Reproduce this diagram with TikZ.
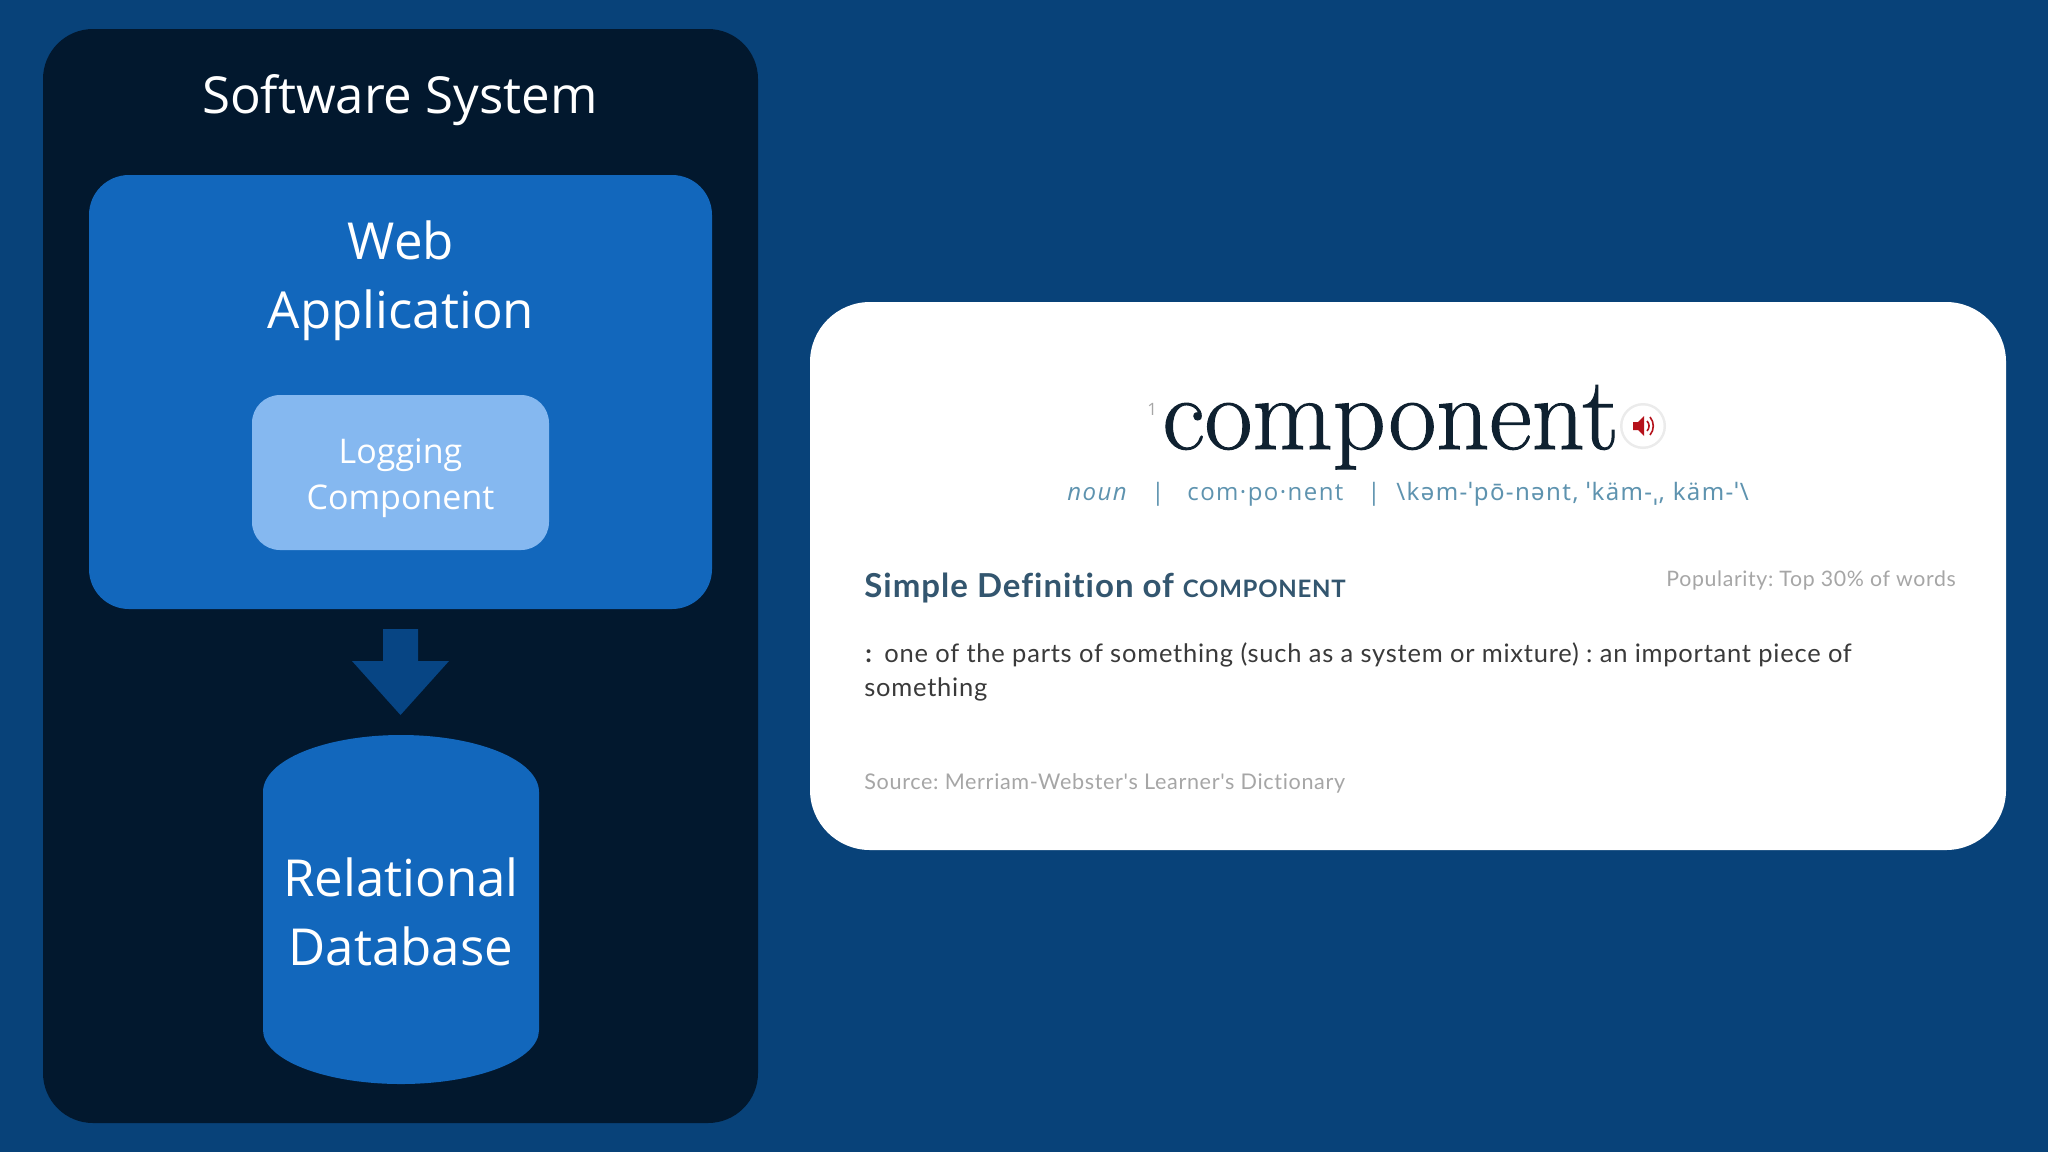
\documentclass[tikz,border=0pt]{standalone}
\usepackage{fontspec}
\setmainfont{Open Sans}
\newfontfamily\latoSp[LetterSpace=3,Ligatures=NoCommon]{Lato}
\newfontfamily\openSp[LetterSpace=6]{Open Sans}
\newfontfamily\notoSp[LetterSpace=5.7]{Noto Sans}
\newfontfamily\dictfont[RawFeature={embolden=1.0}]{Latin Modern Roman}
\definecolor{bgblue}{HTML}{084279}
\definecolor{panel}{HTML}{02182E}
\definecolor{midblue}{HTML}{1267BC}
\definecolor{lightblue}{HTML}{85B8F0}
\definecolor{arrowblue}{HTML}{074584}
\definecolor{inkdark}{HTML}{0F2130}
\definecolor{slate}{HTML}{5E93AF}
\definecolor{headblue}{HTML}{33566F}
\definecolor{greytxt}{HTML}{A6A6A6}
\definecolor{bodytxt}{HTML}{3A3A3A}
\definecolor{speaker}{HTML}{B5121B}
\tikzset{
  px/.style={x=0.5pt,y=-0.5pt},
  lbl/.style={text=white,align=center,inner sep=0pt},
  big/.style={lbl,font=\fontsize{25.5}{34.5}\selectfont},
  dict/.style={anchor=base west,inner sep=0pt},
  meta/.style={dict,text=slate,font=\openSp\fontsize{12}{15}\selectfont},
}
\begin{document}
\frenchspacing
\begin{tikzpicture}[px]
\useasboundingbox (0,0) rectangle (2048,1152);
\fill[bgblue] (0,0) rectangle (2048,1152);
% left panel
\fill[panel,rounded corners=25pt] (43,29) rectangle (758,1123);
\node[big] (sys) at (400,100) {Software System};
\fill[midblue,rounded corners=20pt] (89,175) rectangle (712,609);
\node[big] (web) at (401,281) {Web\\Application};
\fill[lightblue,rounded corners=14pt] (252,395) rectangle (549,550);
\node[lbl,font=\fontsize{17}{23}\selectfont] (log) at (400.5,478) {Logging\\Component};
\fill[arrowblue] (383,629) -- (418,629) -- (418,661) -- (449,661) -- (400.5,715) -- (352,661) -- (383,661) -- cycle;
\fill[midblue] (263,792) .. controls (263,760) and (325,735) .. (401,735) .. controls (477,735) and (539,760) .. (539,792)
  -- (539,1030) .. controls (539,1060) and (477,1084) .. (401,1084) .. controls (325,1084) and (263,1060) .. (263,1030) -- cycle;
\node[big] (db) at (401,912) {Relational\\Database};
% card
\fill[white,rounded corners=30pt] (810,302) rectangle (2006,850);
\node[dict,text=greytxt,font=\fontsize{8.5}{9}\selectfont] (sup) at (1147,415) {1};
\node[dict,text=inkdark,font=\dictfont\fontsize{52}{52}\selectfont] (word) at (1162,449) {component};
\fill[black!8] (1643,426) circle (23);
\fill[white] (1643,426) circle (20.5);
\fill[speaker] (1633,422) -- (1638,422) -- (1644,416) -- (1644,436) -- (1638,430) -- (1633,430) -- cycle;
\draw[speaker,line width=0.8pt] (1647,421) arc (-45:45:7);
\draw[speaker,line width=0.8pt] (1650,417) arc (-40:40:14);
\node[meta,font=\openSp\itshape\fontsize{12}{15}\selectfont] (pos) at (1067,500) {noun};
\node[meta] (sep1) at (1151,500) {|};
\node[meta] (syl) at (1187,500) {com·po·nent};
\node[meta] (sep2) at (1367,500) {|};
\node[meta,font=\notoSp\fontsize{12}{15}\selectfont] (pron) at (1396,500) {\textbackslash kəm-ˈpō-nənt, ˈkäm-ˌ, käm-ˈ\textbackslash};
\node[dict,text=headblue,font=\latoSp\bfseries\fontsize{16.5}{20}\selectfont] (head) at (864,597) {Simple Definition of {\fontsize{12}{20}\selectfont COMPONENT}};
\node[dict,text=greytxt,font=\latoSp\fontsize{10.65}{14}\selectfont] (pop) at (1666,586) {Popularity: Top 30\% of words};
\node[dict,text=bodytxt,font=\latoSp\bfseries\fontsize{12.75}{17}\selectfont] (colon) at (865,662) {:};
\node[dict,text=bodytxt,font=\latoSp\fontsize{12.75}{17}\selectfont] (def) at (884,662) {one of the parts of something (such as a system or mixture) : an important piece of};
\node[dict,text=bodytxt,font=\latoSp\fontsize{12.75}{17}\selectfont] (def2) at (864,696) {something};
\node[dict,text=greytxt,font=\latoSp\fontsize{10.8}{14}\selectfont] (src) at (864,789) {Source: Merriam-Webster's Learner's Dictionary};
\end{tikzpicture}
\end{document}
